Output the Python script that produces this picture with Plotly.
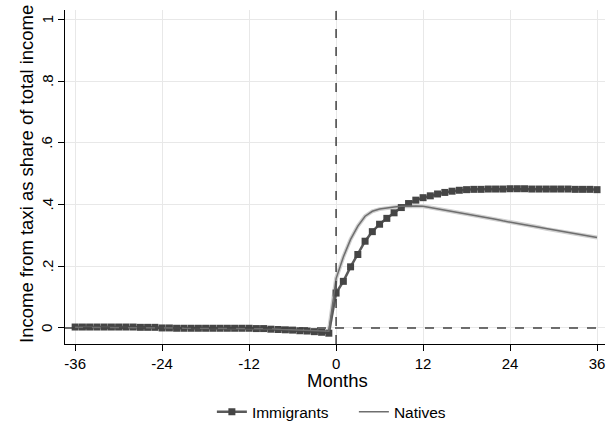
import plotly.graph_objects as go

months = list(range(-36, 37))

immigrants = [
    0.003, 0.003, 0.003, 0.003, 0.003, 0.003, 0.003, 0.003, 0.003, 0.002, 0.002, 0.002,
    0.000, 0.000, -0.001, -0.001, -0.001, -0.001, -0.001, -0.001, -0.001, -0.001, -0.001, -0.001,
    -0.001, -0.002, -0.002, -0.004, -0.005, -0.006, -0.007, -0.009, -0.010, -0.012, -0.014, -0.017,
    0.113, 0.151, 0.198, 0.238, 0.281, 0.312, 0.336, 0.355, 0.373, 0.390, 0.403, 0.414,
    0.422, 0.428, 0.434, 0.439, 0.443, 0.446, 0.448, 0.449, 0.449, 0.450, 0.450, 0.450,
    0.451, 0.451, 0.451, 0.450, 0.450, 0.450, 0.450, 0.450, 0.450, 0.449, 0.449, 0.449, 0.448,
]

natives = [
    0.002, 0.002, 0.002, 0.002, 0.002, 0.002, 0.002, 0.002, 0.002, 0.002, 0.001, 0.001,
    0.000, 0.000, 0.000, -0.001, -0.001, -0.001, -0.001, -0.001, -0.001, -0.001, -0.001, -0.001,
    -0.001, -0.002, -0.002, -0.003, -0.004, -0.005, -0.006, -0.007, -0.008, -0.009, -0.010, -0.011,
    0.160, 0.230, 0.287, 0.330, 0.362, 0.378, 0.385, 0.389, 0.392, 0.394, 0.395, 0.395,
    0.394, 0.390, 0.385, 0.381, 0.377, 0.373, 0.369, 0.365, 0.361, 0.357, 0.352, 0.347,
    0.342, 0.338, 0.334, 0.330, 0.326, 0.321, 0.317, 0.313, 0.309, 0.305, 0.301, 0.297, 0.293,
]

x_ticks = [-36, -24, -12, 0, 12, 24, 36]
x_tick_labels = ["-36", "-24", "-12", "0", "12", "24", "36"]
y_ticks = [0, 0.2, 0.4, 0.6, 0.8, 1]
y_tick_labels = ["0", ".2", ".4", ".6", ".8", "1"]
x_title = "Months"
y_title = "Income from taxi as share of total income"

font = "Arial, Liberation Sans, sans-serif"

fig = go.Figure()

# light halo under natives line
fig.add_trace(go.Scatter(
    x=months, y=natives, mode="lines",
    line=dict(color="#d0d0d0", width=4), showlegend=False, hoverinfo="skip"))

fig.add_trace(go.Scatter(
    x=months, y=immigrants, mode="lines+markers", name="Immigrants",
    line=dict(color="#5a5a5a", width=2.5),
    marker=dict(symbol="square", size=7, color="#454545")))

fig.add_trace(go.Scatter(
    x=months, y=natives, mode="lines", name="Natives",
    line=dict(color="#6e6e6e", width=1.5)))

fig.add_shape(type="line", xref="x", yref="paper", x0=0, x1=0, y0=0, y1=1,
              line=dict(color="#404040", width=1.5, dash="dash"))
fig.add_shape(type="line", xref="paper", yref="y", x0=0, x1=1, y0=0, y1=0,
              line=dict(color="#404040", width=1.5, dash="dash"))

# rotated y tick labels, placed on the y scale
for val, lab in zip(y_ticks, y_tick_labels):
    fig.add_annotation(text=lab, xref="paper", yref="y", x=-0.0333, y=val,
                       xanchor="center", yanchor="middle", showarrow=False,
                       textangle=-90, font=dict(size=15))

fig.add_annotation(text=x_title, xref="paper", yref="paper", x=0.505, y=-0.108,
                   xanchor="center", yanchor="middle", showarrow=False,
                   font=dict(size=18.5))
fig.add_annotation(text=y_title, xref="paper", yref="paper", x=-0.0704, y=0.509,
                   xanchor="center", yanchor="middle", showarrow=False, textangle=-90,
                   font=dict(size=18.5))

fig.update_layout(
    width=607, height=427,
    margin=dict(l=65, r=2, t=10, b=83, autoexpand=False),
    paper_bgcolor="white", plot_bgcolor="white",
    font=dict(family=font, size=15, color="black"),
    legend=dict(orientation="h", x=0.272, xanchor="left", y=-0.204, yanchor="middle",
                font=dict(size=15.5), entrywidth=97, entrywidthmode="pixels"),
    xaxis=dict(range=[-37.4, 37.1], tickvals=x_ticks, ticktext=x_tick_labels,
               showgrid=True, gridcolor="#e8e8e8", automargin=False,
               zeroline=False, showline=True, linecolor="black", linewidth=1,
               ticks="outside", ticklen=6, tickcolor="black", tickfont=dict(size=15)),
    yaxis=dict(range=[-0.052, 1.03], tickvals=y_ticks, showticklabels=False,
               showgrid=True, gridcolor="#e8e8e8", automargin=False,
               zeroline=False, showline=True, linecolor="black", linewidth=1,
               ticks="outside", ticklen=6, tickcolor="black"),
)

fig.write_html("out.html", config={"displayModeBar": False},
               post_script="document.body.style.margin='0';document.body.style.padding='0';")
